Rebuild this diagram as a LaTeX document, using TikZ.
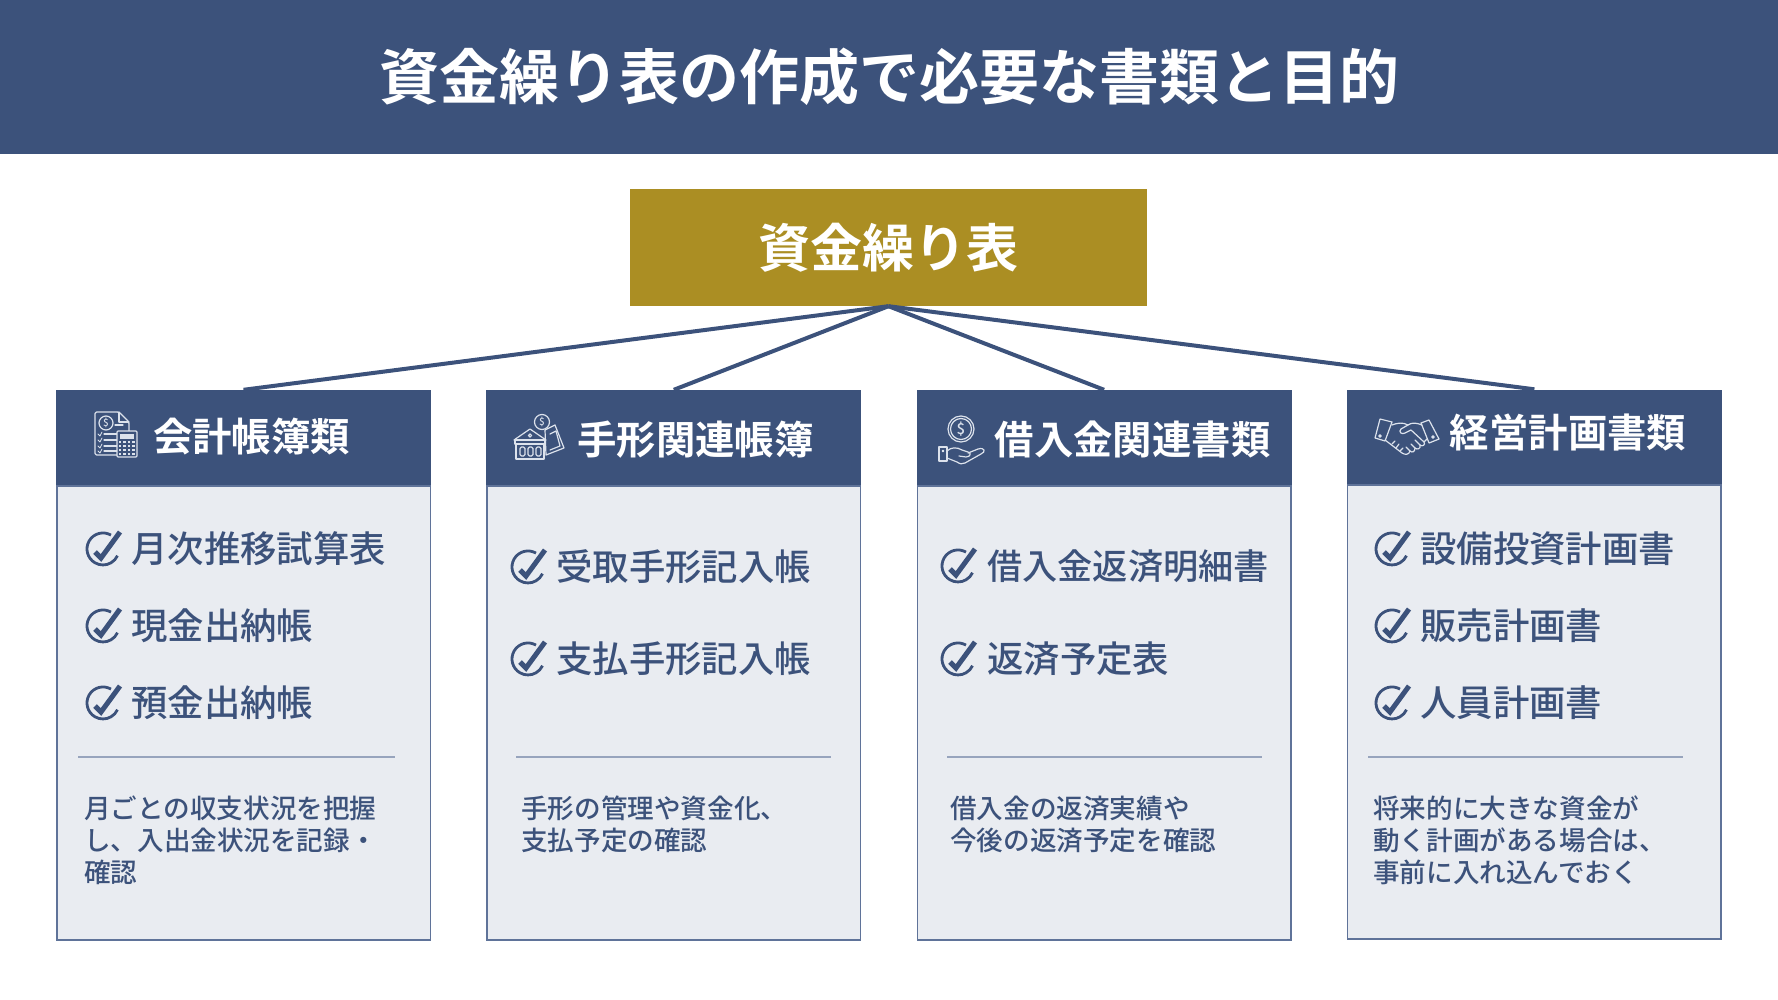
\documentclass[tikz,border=0pt]{standalone}
\usepackage{fontspec}
\setmainfont{Noto Sans CJK JP Medium}[BoldFont={Noto Sans CJK JP Bold}]
\usetikzlibrary{positioning}
\definecolor{navy}{HTML}{3C527B}
\definecolor{gold}{HTML}{AB8E23}
\definecolor{pale}{HTML}{E9ECF1}
\definecolor{edge}{HTML}{5F7399}
\definecolor{iconline}{HTML}{DCE2EC}
\tikzset{
  coinsign/.style = {text=iconline,inner sep=0pt,font=\fontsize{#1}{#1}\selectfont},
  stroke/.style = {iconline,line width=1.2pt,line join=round,line cap=round},
  checkmark/.pic = {
    \draw [navy,line width=2.8pt] (8,-13.9) arc (-60:-335:16);
    \draw [navy,line width=5pt,line join=miter] (-8,3) -- (-2,9) -- (17,-17);
  },
  ledger/.pic = {
    \draw [stroke,rounded corners=1.5pt] (34,19) -- (34,10) -- (24,0) -- (0,0) -- (0,43) -- (22,43);
    \draw [stroke] (24,0) -- (24,10) -- (34,10);
    \draw [stroke] (11,11) circle (7);
    \node (dollarA)[coinsign=10] at (11,11){\$};
    \draw [stroke] (20,13) -- (28,13) (9,22) -- (24,22) (9,28) -- (22,28) (9,34) -- (22,34) (9,39) -- (22,39);
    \draw [stroke,line width=.8pt] (3,22) -- (5,24) -- (7,20) (3,28) -- (5,30) -- (7,26) (3,34) -- (5,36) -- (7,32) (3,39) -- (5,41) -- (7,37);
    \draw [stroke,fill=navy,rounded corners=1pt] (22,19) rectangle (42,45);
    \fill [iconline] (25,22) rectangle (39,27);
    \foreach \px in {25,29.5,34,38.5}
      \foreach \py in {30,34,38,42}
        \fill [iconline] (\px-1.2,\py-1.2) rectangle (\px+1.2,\py+1.2);
  },
  bank/.pic = {
    \draw [stroke,fill=navy] (31,16) -- (41,11) -- (50,34) -- (32,41) -- cycle;
    \draw [stroke] (36,20) -- (42,17) -- (46,32) -- (36,36);
    \draw [stroke,fill=navy] (28,8) circle (7.5);
    \node (dollarB)[coinsign=10] at (28,8){\$};
    \draw [stroke,fill=navy] (0,26) -- (16,15) -- (32,26) -- cycle;
    \draw [stroke] (16,21.5) circle (1.6);
    \draw [stroke,fill=navy] (1,26) rectangle (31,30);
    \draw [stroke,fill=navy] (2,30) rectangle (30,45);
    \foreach \px in {6,14,22}
      \draw [stroke,rounded corners=1.5pt] (\px,33) rectangle (\px+5,42);
  },
  lending/.pic = {
    \draw [stroke] (22,15) circle (13);
    \draw [stroke] (22,15) circle (10.5);
    \node (dollarC)[coinsign=15] at (22,15){\$};
    \draw [stroke] (0,33) rectangle (8,47);
    \draw [stroke] (4,37) circle (.8);
    \draw [stroke] (8,37) .. controls (12,33) and (18,33) .. (23,36) -- (29,38)
      .. controls (33,39) and (31,43) .. (27,43) -- (20,42);
    \draw [stroke] (29,39) -- (39,35) .. controls (46,33) and (47,38) .. (42,40)
      -- (26,49) .. controls (23,50.5) and (21,50) .. (18,48) -- (8,44);
  },
  handshake/.pic = {
    \draw [stroke] (5,1) -- (17,4) -- (10,23) -- (0,20) -- cycle;
    \draw [stroke] (54,2) -- (64,21) -- (54,25) -- (46,5) -- cycle;
    \draw [stroke] (5,18) circle (1.2) (58,19) circle (1.2);
    \draw [stroke] (17,7) .. controls (22,5) and (28,4) .. (33,7)
      .. controls (37,4) and (42,5) .. (47,7);
    \draw [stroke] (33,7) -- (26,11) .. controls (23,14) and (27,17) .. (30,15)
      -- (36,12) -- (49,24) .. controls (51,27) and (47,29) .. (45,27) -- (40,22);
    \draw [stroke] (45,27) .. controls (46,31) and (42,32) .. (40,30) -- (36,26);
    \draw [stroke] (40,30) .. controls (40,34) and (37,35) .. (35,33) -- (31,29);
    \draw [stroke] (35,33) .. controls (34,37) and (30,37) .. (27,35) -- (10,22);
    \draw [stroke] (20,23) -- (17,26) (24,26) -- (21,30) (28,30) -- (25,33);
    \draw [stroke] (49,24) -- (52,21);
  }
}
\begin{document}
\begin{tikzpicture}[
      x=1pt,y=-1pt,
      banner/.style = {fill=navy,text=white,minimum width=1778pt,minimum height=154pt,inner sep=0pt,font=\fontsize{60}{60}\selectfont\bfseries},
      root/.style = {fill=gold,text=white,minimum width=517pt,minimum height=117pt,inner sep=0pt,font=\fontsize{52}{52}\selectfont\bfseries},
      head/.style = {fill=navy,minimum width=375pt,minimum height=95pt,inner sep=0pt},
      headtext/.style = {text=white,inner sep=0pt,font=\fontsize{39.4}{40}\selectfont\bfseries},
      panel/.style = {fill=pale,draw=edge,line width=1.5pt,minimum width=373.5pt,minimum height=454pt,inner sep=0pt},
      item/.style = {anchor=west,text=navy,inner sep=0pt,font=\fontsize{36.4}{37}\selectfont},
      note/.style = {anchor=north west,align=left,text=navy,inner sep=0pt,font=\fontsize{26.6}{32}\selectfont},
      rule/.style = {draw=edge!65,line width=1.2pt},
      link/.style = {draw=navy,line width=4pt}
    ]
      \useasboundingbox (0,0) rectangle (1778,1000);
      \node (title)[banner] at (889,77){資金繰り表の作成で必要な書類と目的};
      \node (fund)[root] at (888.5,247.5){\raisebox{2pt}{資金繰り表}};
      % four columns
      \node (headA)[head] at (243.5,437.5){};
      \node (headB)[head,right = 54.9pt of headA]{};
      \node (headC)[head,right = 54.9pt of headB]{};
      \node (headD)[head,right = 54.9pt of headC,yshift=.5pt]{};
      \node (panelA)[panel,below = 0pt of headA]{};
      \node (panelB)[panel,below = 0pt of headB]{};
      \node (panelC)[panel,below = 0pt of headC]{};
      \node (panelD)[panel,below = 0pt of headD,yshift=.5pt]{};
      \draw [link] (fund.south) -- (headA.north);
      \draw [link] (fund.south) -- (headB.north);
      \draw [link] (fund.south) -- (headC.north);
      \draw [link] (fund.south) -- (headD.north);
      % header labels
      \node (labelA)[headtext] at (251.5,437){会計帳簿類};
      \node (labelB)[headtext] at (695.5,440){手形関連帳簿};
      \node (labelC)[headtext] at (1132.5,440){借入金関連書類};
      \node (labelD)[headtext] at (1568,433){経営計画書類};
      \pic at (95,412) {ledger};
      \pic at (514,414) {bank};
      \pic at (939,414) {lending};
      \pic at (1375,418) {handshake};
      % checklists
      \node (itemA1)[item] at (131,549){月次推移試算表};
      \node (itemA2)[item] at (131,626){現金出納帳};
      \node (itemA3)[item] at (131,703){預金出納帳};
      \node (itemB1)[item] at (556,567){受取手形記入帳};
      \node (itemB2)[item] at (556,659){支払手形記入帳};
      \node (itemC1)[item,font=\fontsize{35.2}{36}\selectfont] at (987,566){借入金返済明細書};
      \node (itemC2)[item] at (987,659){返済予定表};
      \node (itemD1)[item] at (1420,549){設備投資計画書};
      \node (itemD2)[item] at (1420,626){販売計画書};
      \node (itemD3)[item] at (1420,703){人員計画書};
      \pic at (103,549) {checkmark};
      \pic at (103,626) {checkmark};
      \pic at (103,703) {checkmark};
      \pic at (528,567) {checkmark};
      \pic at (528,659) {checkmark};
      \pic at (958,566) {checkmark};
      \pic at (958,659) {checkmark};
      \pic at (1392,549) {checkmark};
      \pic at (1392,626) {checkmark};
      \pic at (1392,703) {checkmark};
      % dividers
      \draw [rule] (78,757) -- (395,757);
      \draw [rule] (516,757) -- (831,757);
      \draw [rule] (947,757) -- (1262,757);
      \draw [rule] (1368,757) -- (1683,757);
      % purpose notes
      \node (noteA)[note] at (84,796){月ごとの収支状況を把握\\し、入出金状況を記録・\\確認};
      \node (noteB)[note] at (521,796){手形の管理や資金化、\\支払予定の確認};
      \node (noteC)[note] at (950,796){借入金の返済実績や\\今後の返済予定を確認};
      \node (noteD)[note] at (1373,796){将来的に大きな資金が\\動く計画がある場合は、\\事前に入れ込んでおく};
    \end{tikzpicture}
\end{document}
